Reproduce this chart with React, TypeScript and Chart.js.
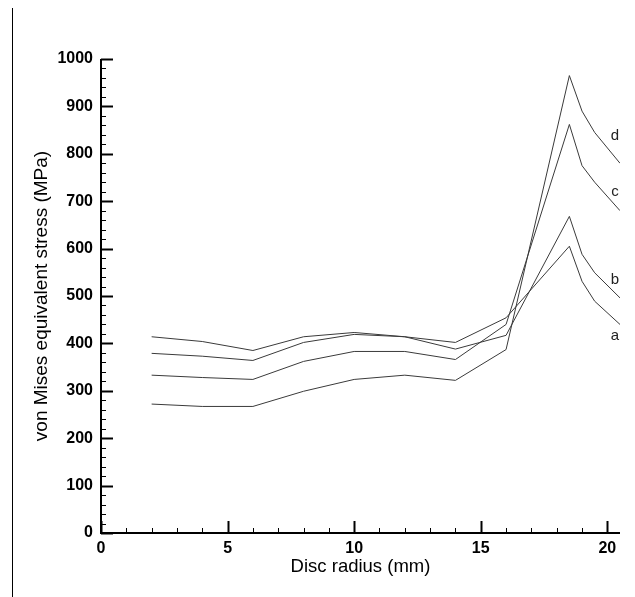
import React, { useEffect, useRef } from 'react';
import { Chart, registerables } from 'chart.js';

Chart.register(...registerables);

// Disc radius (mm)
const radius = [2, 4, 6, 8, 10, 12, 14, 16, 18.5, 19, 19.5, 20.5];
// von Mises equivalent stress (MPa)
const seriesA = [414, 404, 385, 414, 423, 414, 402, 454, 605, 531, 489, 440];
const seriesB = [379, 373, 364, 402, 419, 414, 388, 417, 668, 588, 549, 496];
const seriesC = [333, 328, 324, 362, 383, 383, 366, 440, 862, 775, 740, 680];
const seriesD = [272, 267, 267, 299, 324, 333, 322, 387, 965, 890, 845, 780];

const curveNames = ['a', 'b', 'c', 'd'];
const curveLabelX = [20.3, 20.3, 20.3, 20.3];
const curveLabelY = [416, 533, 719, 837];

const xTickValues = [0, 5, 10, 15, 20];
const yTickValues = [0, 100, 200, 300, 400, 500, 600, 700, 800, 900, 1000];

const FONT = "'Liberation Sans', Arial, sans-serif";

export default function App() {
  const ref = useRef<HTMLCanvasElement>(null);

  useEffect(() => {
    const axesPlugin = {
      id: 'inwardAxes',
      afterDatasetsDraw(chart: any) {
        const { ctx, chartArea, scales } = chart;
        const { left, right, top, bottom } = chartArea;
        const xs = scales.x;
        const ys = scales.y;
        ctx.save();
        ctx.strokeStyle = '#000';
        // x ticks (inward)
        for (let v = 0; v <= 20; v += 1) {
          const px = Math.round(xs.getPixelForValue(v)) + 0.5;
          const major = xTickValues.includes(v);
          ctx.lineWidth = major ? 2 : 1;
          ctx.beginPath();
          ctx.moveTo(px, bottom);
          ctx.lineTo(px, bottom - (major ? 12 : 5));
          ctx.stroke();
        }
        // y ticks (inward)
        for (let v = 0; v <= 1000; v += 20) {
          const py = Math.round(ys.getPixelForValue(v)) + 0.5;
          const major = yTickValues.includes(v);
          ctx.lineWidth = major ? 2 : 1;
          ctx.beginPath();
          ctx.moveTo(left, py);
          ctx.lineTo(left + (major ? 12 : 5), py);
          ctx.stroke();
        }
        // axis lines
        ctx.lineWidth = 2;
        ctx.beginPath();
        ctx.moveTo(left, top);
        ctx.lineTo(left, bottom);
        ctx.lineTo(right, bottom);
        ctx.stroke();
        // curve labels
        ctx.fillStyle = '#222';
        ctx.font = `15px ${FONT}`;
        ctx.textAlign = 'center';
        ctx.textBaseline = 'middle';
        curveNames.forEach((n, i) => {
          ctx.fillText(n, xs.getPixelForValue(curveLabelX[i]), ys.getPixelForValue(curveLabelY[i]));
        });
        ctx.restore();
      },
    };

    const mk = (vals: number[]) => ({
      data: radius.map((r, i) => ({ x: r, y: vals[i] })),
      borderColor: '#3a3a3a',
      borderWidth: 1,
      pointRadius: 0,
      tension: 0,
      fill: false,
    });

    const chart = new Chart(ref.current as HTMLCanvasElement, {
      type: 'line',
      data: {
        datasets: [mk(seriesA), mk(seriesB), mk(seriesC), mk(seriesD)],
      },
      options: {
        animation: false,
        responsive: false,
        devicePixelRatio: 1,
        layout: { padding: { top: 59, right: 15, left: 0, bottom: 0 } },
        plugins: { legend: { display: false }, tooltip: { enabled: false } },
        scales: {
          x: {
            type: 'linear',
            min: 0,
            max: 20.5,
            grid: { display: false, drawTicks: false },
            border: { display: false },
            ticks: {
              stepSize: 5,
              includeBounds: false,
              padding: 6,
              color: '#000',
              font: { family: FONT, size: 16, weight: 'bold' },
              maxRotation: 0,
              callback: (v: any) => String(v),
            },
            afterBuildTicks: (s: any) => {
              s.ticks = xTickValues.map((v) => ({ value: v }));
            },
            title: {
              display: true,
              text: 'Disc radius (mm)',
              color: '#000',
              font: { family: FONT, size: 18.5 },
              padding: { top: 0, bottom: 19 },
            },
            afterFit: (s: any) => {
              s.height = 64;
            },
          },
          y: {
            type: 'linear',
            min: 0,
            max: 1000,
            grid: { display: false, drawTicks: false },
            border: { display: false },
            ticks: {
              stepSize: 100,
              padding: 8,
              color: '#000',
              font: { family: FONT, size: 16, weight: 'bold' },
              callback: (v: any) => String(v),
            },
            afterBuildTicks: (s: any) => {
              s.ticks = yTickValues.map((v) => ({ value: v }));
            },
            title: {
              display: true,
              text: 'von Mises equivalent stress (MPa)',
              color: '#000',
              font: { family: FONT, size: 19 },
              padding: { top: 30, bottom: 0 },
            },
            afterFit: (s: any) => {
              s.width = 101;
            },
          },
        },
      },
      plugins: [axesPlugin],
    });
    return () => chart.destroy();
  }, []);

  return (
    <div style={{ position: 'absolute', left: 0, top: 0, width: 635, height: 597, background: '#fff' }}>
      <div style={{ position: 'absolute', left: 12, top: 8, width: 1, height: 589, background: '#000' }} />
      <canvas ref={ref} width={635} height={597} style={{ position: 'absolute', left: 0, top: 0 }} />
    </div>
  );
}
